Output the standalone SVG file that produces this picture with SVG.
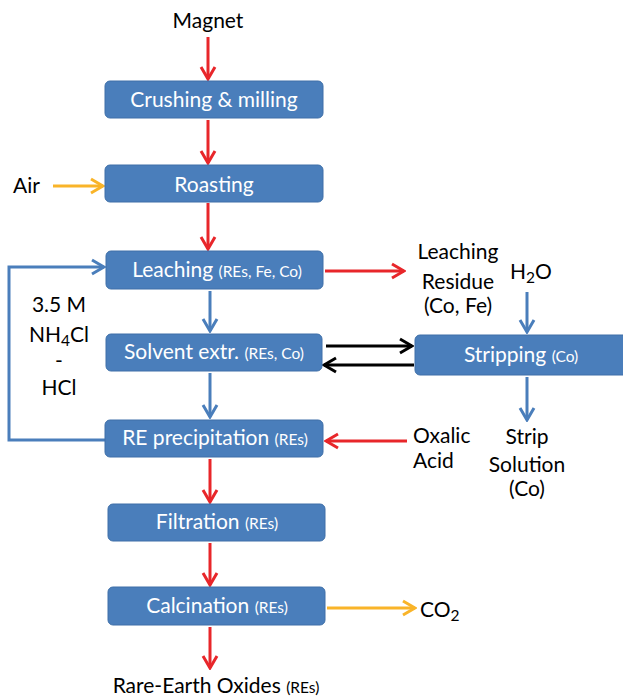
<svg xmlns="http://www.w3.org/2000/svg" width="623" height="699" viewBox="0 0 623 699">
<style>
.box{fill:#4a7ebb;stroke:#3e6fa8;stroke-width:1}
.nt{fill:#ffffff;font-family:Lato,"Open Sans",sans-serif;font-size:21px;text-anchor:middle}
.sm{font-size:15.5px}
.xs{font-size:14px}
.lb{fill:#000000;font-family:Lato,"Open Sans",sans-serif;font-size:21px}
.r{stroke:#e8262a;stroke-width:3;fill:none}
.b{stroke:#4a7ebb;stroke-width:3;fill:none}
.o{stroke:#f9b429;stroke-width:3;fill:none}
.k{stroke:#000000;stroke-width:3;fill:none}
</style>
<defs>
<marker id="mr" markerUnits="userSpaceOnUse" viewBox="-14 -9 16 18" markerWidth="16" markerHeight="18" refX="0" refY="0" orient="auto"><path d="M-12,-7 L0,0 L-12,7" fill="none" stroke="#e8262a" stroke-width="3"/></marker>
<marker id="mb" markerUnits="userSpaceOnUse" viewBox="-14 -9 16 18" markerWidth="16" markerHeight="18" refX="0" refY="0" orient="auto"><path d="M-12,-7 L0,0 L-12,7" fill="none" stroke="#4a7ebb" stroke-width="3"/></marker>
<marker id="mo" markerUnits="userSpaceOnUse" viewBox="-14 -9 16 18" markerWidth="16" markerHeight="18" refX="0" refY="0" orient="auto"><path d="M-12,-7 L0,0 L-12,7" fill="none" stroke="#f9b429" stroke-width="3"/></marker>
<marker id="mk" markerUnits="userSpaceOnUse" viewBox="-14 -9 16 18" markerWidth="16" markerHeight="18" refX="0" refY="0" orient="auto"><path d="M-12,-7 L0,0 L-12,7" fill="none" stroke="#000000" stroke-width="3"/></marker>
</defs>

<g id="connectors">
<path class="r" d="M208,37 V79" marker-end="url(#mr)"/>
<path class="r" d="M208,120 V163" marker-end="url(#mr)"/>
<path class="r" d="M208,203 V249" marker-end="url(#mr)"/>
<path class="o" d="M53,186 H103" marker-end="url(#mo)"/>
<path class="r" d="M325,271 H404" marker-end="url(#mr)"/>
<path class="b" d="M527,292 V332" marker-end="url(#mb)"/>
<path class="b" d="M210,291 V331" marker-end="url(#mb)"/>
<path class="k" d="M326,346 H412" marker-end="url(#mk)"/>
<path class="k" d="M414,365 H324" marker-end="url(#mk)"/>
<path class="b" d="M210,373 V417" marker-end="url(#mb)"/>
<path class="b" d="M527,377 V420" marker-end="url(#mb)"/>
<path class="r" d="M407,441 H326" marker-end="url(#mr)"/>
<path class="b" d="M105,440 H9 V267 H104" marker-end="url(#mb)"/>
<path class="r" d="M210,459 V502" marker-end="url(#mr)"/>
<path class="r" d="M210,543 V585" marker-end="url(#mr)"/>
<path class="o" d="M327,608 H415" marker-end="url(#mo)"/>
<path class="r" d="M210,627 V668" marker-end="url(#mr)"/>
</g>

<g id="magnet"><text class="lb" x="208" y="28" text-anchor="middle">Magnet</text></g>
<g id="air"><text class="lb" x="13" y="193">Air</text></g>

<g id="crushing"><rect class="box" x="105" y="81" width="218" height="37" rx="5"/><text class="nt" x="214" y="107">Crushing &amp; milling</text></g>
<g id="roasting"><rect class="box" x="105" y="165" width="218" height="37" rx="5"/><text class="nt" x="214" y="192">Roasting</text></g>
<g id="leaching"><rect class="box" x="106" y="251" width="217" height="38" rx="5"/><text class="nt" x="217" y="277">Leaching <tspan class="sm">(REs, Fe, Co)</tspan></text></g>
<g id="residue">
<text class="lb" x="458" y="259" text-anchor="middle">Leaching</text>
<text class="lb" x="458" y="289" text-anchor="middle">Residue</text>
<text class="lb xs" x="458" y="313" text-anchor="middle">(Co, Fe)</text>
</g>
<g id="h2o"><text class="lb" x="531" y="279" text-anchor="middle">H<tspan class="sm" dy="4">2</tspan><tspan dy="-4">O</tspan></text></g>
<g id="solvent"><rect class="box" x="106" y="334" width="216" height="37" rx="5"/><text class="nt" x="214" y="359">Solvent extr. <tspan class="sm">(REs, Co)</tspan></text></g>
<g id="stripping"><rect class="box" x="415" y="335" width="215" height="40" rx="5"/><text class="nt" x="521" y="362">Stripping <tspan class="sm">(Co)</tspan></text></g>
<g id="reagent">
<text class="lb" x="59" y="312" text-anchor="middle">3.5 M</text>
<text class="lb" x="59" y="342" text-anchor="middle">NH<tspan class="sm" dy="4">4</tspan><tspan dy="-4">Cl</tspan></text>
<text class="lb" x="59" y="368" text-anchor="middle">-</text>
<text class="lb" x="59" y="395" text-anchor="middle">HCl</text>
</g>
<g id="precip"><rect class="box" x="105" y="420" width="218" height="37" rx="5"/><text class="nt" x="215" y="445">RE precipitation <tspan class="sm">(REs)</tspan></text></g>
<g id="oxalic">
<text class="lb" x="413" y="443">Oxalic</text>
<text class="lb" x="413" y="468">Acid</text>
</g>
<g id="strip">
<text class="lb" x="527" y="444" text-anchor="middle">Strip</text>
<text class="lb" x="527" y="472" text-anchor="middle">Solution</text>
<text class="lb xs" x="527" y="496" text-anchor="middle">(Co)</text>
</g>
<g id="filtration"><rect class="box" x="108" y="504" width="217" height="37" rx="5"/><text class="nt" x="217" y="529">Filtration <tspan class="sm">(REs)</tspan></text></g>
<g id="calcination"><rect class="box" x="108" y="587" width="217" height="38" rx="5"/><text class="nt" x="217" y="613">Calcination <tspan class="sm">(REs)</tspan></text></g>
<g id="co2"><text class="lb" x="420" y="617">CO<tspan class="sm" dy="4">2</tspan></text></g>
<g id="oxides"><text class="lb" x="216" y="693" text-anchor="middle">Rare-Earth Oxides <tspan class="sm">(REs)</tspan></text></g>
</svg>
